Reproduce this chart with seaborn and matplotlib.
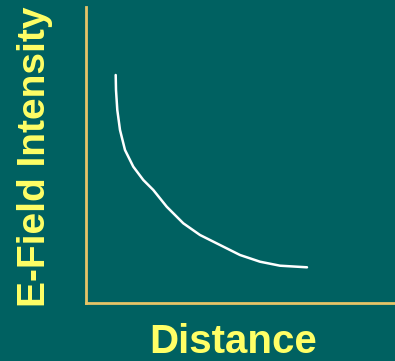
import matplotlib
matplotlib.use("Agg")
import matplotlib.pyplot as plt
import seaborn as sns
import pandas as pd

# Data (arbitrary units)
distance = [29.7, 30.0, 31.3, 34.0, 39.0, 47.3, 57.3, 67.3, 80.7, 97.3, 114.0, 134.0, 154.0, 174.0, 194.0, 221.0]
intensity = [228, 213, 193, 173, 153, 136.3, 123, 113, 96.3, 79.7, 68, 58, 48, 41.3, 37.3, 35.7]

x_label = "Distance"
y_label = "E-Field Intensity"

bg = "#006161"
axis_col = "#E6C467"
text_col = "#FFFF66"

sns.set_theme(style="white")
plt.rcParams['font.family'] = ['Liberation Sans', 'DejaVu Sans']

df = pd.DataFrame({"d": distance, "e": intensity})

fig = plt.figure(figsize=(3.95, 3.61), dpi=100, facecolor=bg)
ax = fig.add_axes([86/395, (361-303)/361, (395-86)/395, (303-7)/361])
ax.set_facecolor(bg)

sns.lineplot(data=df, x="d", y="e", sort=False, color="white", linewidth=1.8, ax=ax)

ax.set_xlim(0, 309)
ax.set_ylim(0, 296)
ax.set_xticks([])
ax.set_yticks([])
ax.set_xlabel("")
ax.set_ylabel("")
for s in ["top", "right"]:
    ax.spines[s].set_visible(False)
for s in ["left", "bottom"]:
    ax.spines[s].set_color(axis_col)
    ax.spines[s].set_linewidth(2)

fig.text(233/395, 1 - 342/361, x_label, color=text_col, fontsize=29, fontweight="bold",
         family=['Liberation Sans', 'DejaVu Sans'], ha="center", va="center")
fig.text(35/395, 1 - 157/361, y_label, color=text_col, fontsize=28, fontweight="bold",
         family=['Liberation Sans', 'DejaVu Sans'], rotation=90, ha="center", va="center")

fig.savefig("out.png", dpi=100, facecolor=bg)
